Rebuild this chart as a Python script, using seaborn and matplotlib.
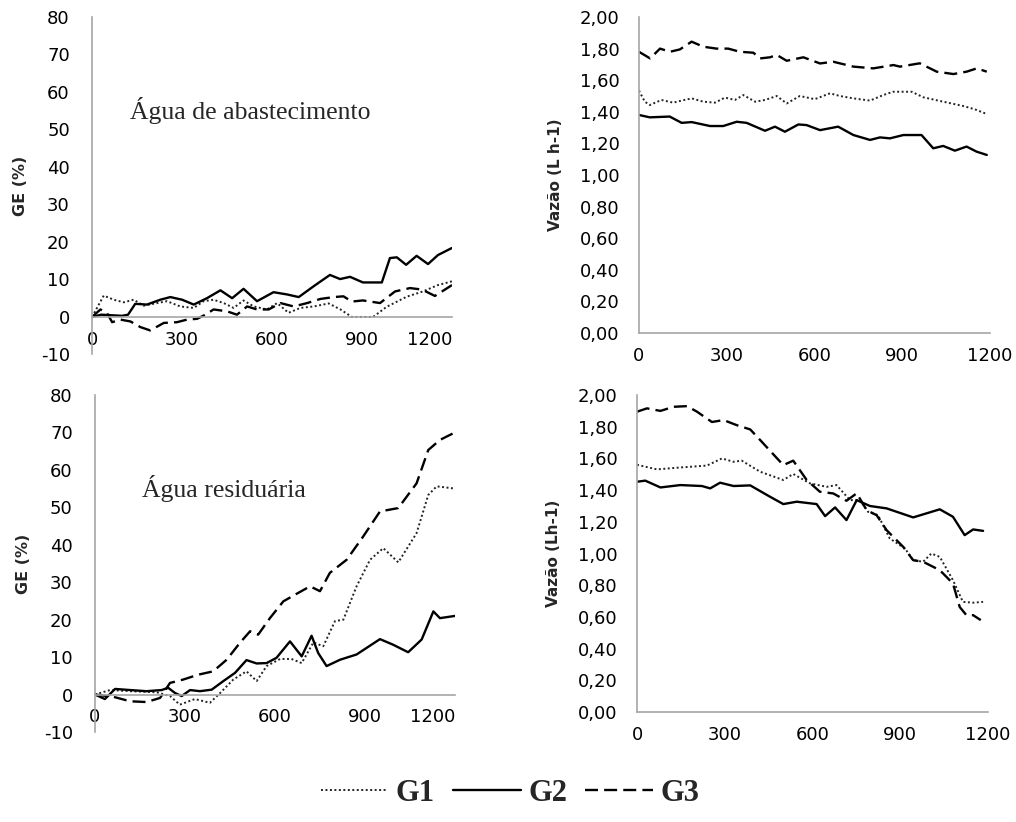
import numpy as np
import pandas as pd
import seaborn as sns
from matplotlib import pyplot as plt

# tick labels
x_ticks = [0, 300, 600, 900, 1200]
ge_ticks = [-10, 0, 10, 20, 30, 40, 50, 60, 70, 80]
vz_ticks = [0.0, 0.2, 0.4, 0.6, 0.8, 1.0, 1.2, 1.4, 1.6, 1.8, 2.0]
vz_labels = ['0,00', '0,20', '0,40', '0,60', '0,80', '1,00', '1,20', '1,40', '1,60', '1,80', '2,00']

# --- GE (%), agua de abastecimento ---
ge_ab_g1_x = [0, 39, 72, 106, 139, 172, 217, 250, 294, 339, 372, 405, 439, 472, 505, 539, 583, 617, 655, 694,
              739, 789, 828, 866, 937, 982, 1049, 1103, 1153, 1200]
ge_ab_g1_y = [0, 5.7, 4.6, 3.9, 4.6, 3.0, 3.7, 4.2, 2.8, 2.4, 4.2, 4.6, 3.7, 2.4, 4.4, 2.8, 2.0, 3.7, 1.1, 2.4,
              2.8, 3.6, 2.0, 0.0, 0.0, 2.7, 5.4, 6.8, 8.5, 9.5]
ge_ab_g2_x = [0, 30, 100, 120, 144, 183, 228, 261, 300, 339, 383, 428, 467, 505, 550, 605, 650, 689, 739, 793,
              827, 860, 903, 966, 993, 1016, 1047, 1082, 1120, 1153, 1200]
ge_ab_g2_y = [0, 0.6, 0.3, 0.6, 3.5, 3.3, 4.6, 5.3, 4.6, 3.3, 5.0, 7.1, 5.0, 7.5, 4.2, 6.6, 6.0, 5.3, 8.2, 11.2,
              10.1, 10.7, 9.2, 9.2, 15.7, 15.9, 13.9, 16.3, 14.1, 16.5, 18.4]
ge_ab_g3_x = [0, 28, 50, 67, 94, 128, 161, 194, 239, 283, 317, 350, 378, 405, 450, 483, 517, 550, 589, 628,
              672, 717, 761, 806, 838, 866, 903, 960, 1010, 1060, 1100, 1143, 1200]
ge_ab_g3_y = [0, 2.0, 1.0, -1.4, -0.7, -1.2, -2.7, -3.6, -1.6, -1.4, -0.7, -0.5, 0.6, 2.0, 1.5, 0.6, 2.8, 2.0,
              2.0, 3.7, 2.8, 3.7, 4.8, 5.3, 5.5, 4.1, 4.4, 3.7, 6.8, 7.7, 7.3, 5.6, 8.5]

# --- GE (%), agua residuaria ---
ge_re_g1_x = [0, 50, 117, 206, 250, 283, 333, 383, 417, 461, 505, 539, 572, 617, 655, 689, 728, 761, 800, 828,
              872, 917, 961, 1011, 1072, 1111, 1139, 1200]
ge_re_g1_y = [0, 1.2, 0.9, 0.6, -0.4, -2.7, -1.2, -2.2, 0.4, 4.0, 6.2, 3.6, 7.6, 9.5, 9.5, 8.4, 13.9, 12.9,
              19.6, 20.0, 28.9, 36.0, 39.1, 35.3, 43.1, 53.3, 55.6, 55.0]
ge_re_g2_x = [0, 33, 67, 117, 172, 222, 244, 267, 289, 317, 350, 389, 428, 467, 505, 539, 572, 605, 650, 689,
              722, 744, 772, 817, 872, 950, 994, 1044, 1089, 1128, 1150, 1200]
ge_re_g2_y = [0, -1.2, 1.5, 1.2, 0.9, 1.2, 1.8, 0.4, -0.4, 1.2, 0.9, 1.3, 3.6, 5.8, 9.2, 8.3, 8.4, 9.8, 14.2,
              10.2, 15.7, 11.1, 7.6, 9.3, 10.7, 14.8, 13.3, 11.3, 14.7, 22.2, 20.4, 21.0]
ge_re_g3_x = [0, 61, 117, 172, 217, 250, 294, 344, 394, 439, 483, 517, 544, 583, 628, 672, 717, 750, 783, 839,
              894, 950, 1011, 1072, 1111, 1150, 1200]
ge_re_g3_y = [0, -0.6, -1.8, -2.0, -0.9, 3.1, 4.0, 5.3, 6.2, 9.3, 13.8, 16.9, 16.0, 20.4, 24.9, 26.9, 28.9,
              27.6, 32.5, 36.0, 42.2, 48.9, 49.8, 56.4, 65.3, 68.0, 70.0]

# --- Vazao (L h-1), agua de abastecimento ---
vz_ab_g1_x = [0, 20, 37, 77, 117, 146, 180, 220, 260, 294, 328, 357, 397, 431, 471, 505, 550, 601, 653, 687,
              733, 790, 835, 869, 932, 972, 1040, 1108, 1148, 1189]
vz_ab_g1_y = [1.534, 1.464, 1.443, 1.475, 1.458, 1.471, 1.485, 1.464, 1.458, 1.49, 1.475, 1.506, 1.464, 1.475,
              1.5, 1.453, 1.5, 1.48, 1.517, 1.5, 1.485, 1.471, 1.506, 1.527, 1.527, 1.492, 1.464, 1.437, 1.416,
              1.386]
vz_ab_g2_x = [0, 37, 105, 146, 180, 243, 288, 334, 368, 431, 465, 499, 545, 573, 619, 681, 733, 790, 824, 858,
              904, 966, 1006, 1040, 1080, 1120, 1154, 1189]
vz_ab_g2_y = [1.38, 1.365, 1.37, 1.33, 1.335, 1.31, 1.31, 1.337, 1.33, 1.28, 1.306, 1.274, 1.32, 1.316, 1.284,
              1.306, 1.253, 1.222, 1.238, 1.232, 1.253, 1.253, 1.169, 1.184, 1.154, 1.18, 1.148, 1.127]
vz_ab_g3_x = [0, 38, 72, 106, 140, 180, 220, 265, 305, 345, 391, 414, 448, 471, 505, 562, 619, 664, 733, 801,
              870, 892, 960, 1018, 1075, 1120, 1155, 1189]
vz_ab_g3_y = [1.78, 1.738, 1.80, 1.78, 1.795, 1.844, 1.812, 1.80, 1.80, 1.78, 1.774, 1.738, 1.745, 1.76, 1.723,
              1.745, 1.706, 1.717, 1.686, 1.675, 1.696, 1.686, 1.707, 1.654, 1.639, 1.654, 1.675, 1.654]

# --- Vazao (L h-1), agua residuaria ---
vz_re_g1_x = [0, 68, 148, 239, 290, 330, 358, 421, 500, 534, 591, 648, 682, 728, 762, 790, 824, 864, 916, 944,
              978, 1006, 1035, 1080, 1114, 1149, 1183]
vz_re_g1_y = [1.56, 1.531, 1.543, 1.555, 1.60, 1.579, 1.586, 1.516, 1.464, 1.502, 1.443, 1.421, 1.432, 1.337,
              1.337, 1.263, 1.242, 1.095, 1.032, 0.958, 0.948, 1.0, 0.979, 0.832, 0.695, 0.69, 0.695]
vz_re_g2_x = [0, 28, 80, 148, 222, 250, 284, 330, 387, 455, 500, 546, 614, 643, 677, 716, 751, 796, 853, 944,
              1035, 1080, 1120, 1149, 1183]
vz_re_g2_y = [1.453, 1.46, 1.417, 1.432, 1.426, 1.411, 1.447, 1.426, 1.43, 1.358, 1.312, 1.327, 1.312, 1.236,
              1.291, 1.211, 1.337, 1.30, 1.285, 1.228, 1.279, 1.232, 1.116, 1.152, 1.143]
vz_re_g3_x = [0, 34, 80, 125, 171, 205, 256, 296, 341, 387, 421, 500, 534, 580, 625, 671, 716, 751, 785, 819,
              853, 910, 944, 978, 1035, 1080, 1103, 1126, 1149, 1175]
vz_re_g3_y = [1.895, 1.916, 1.90, 1.926, 1.93, 1.895, 1.83, 1.842, 1.81, 1.783, 1.716, 1.558, 1.586, 1.464,
              1.39, 1.379, 1.333, 1.38, 1.274, 1.242, 1.148, 1.042, 0.958, 0.948, 0.895, 0.811, 0.663, 0.611,
              0.611, 0.58]

sns.set_style("white")
plt.rcParams['font.family'] = ['DejaVu Sans']

fig = plt.figure(figsize=(10.16, 8.22), dpi=100)
ax_tl = fig.add_axes([0.0906, 0.5688, 0.3543, 0.4106])
ax_tr = fig.add_axes([0.6289, 0.5949, 0.3455, 0.3844])
ax_bl = fig.add_axes([0.0935, 0.1095, 0.3543, 0.41])
ax_br = fig.add_axes([0.627, 0.1338, 0.3455, 0.3856])

styles = {'G1': dict(linestyle=(0, (1, 1.3)), linewidth=1.4, color='#222222'),
          'G2': dict(linestyle='-', linewidth=1.7, color='black'),
          'G3': dict(linestyle=(0, (5.5, 2.6)), linewidth=1.7, color='black')}

def draw(ax, series):
    for name, xs, ys in series:
        sns.lineplot(x=xs, y=ys, ax=ax, label=name, sort=False, legend=False, **styles[name])

draw(ax_tl, [('G1', ge_ab_g1_x, ge_ab_g1_y), ('G2', ge_ab_g2_x, ge_ab_g2_y), ('G3', ge_ab_g3_x, ge_ab_g3_y)])
draw(ax_bl, [('G1', ge_re_g1_x, ge_re_g1_y), ('G2', ge_re_g2_x, ge_re_g2_y), ('G3', ge_re_g3_x, ge_re_g3_y)])
draw(ax_tr, [('G1', vz_ab_g1_x, vz_ab_g1_y), ('G2', vz_ab_g2_x, vz_ab_g2_y), ('G3', vz_ab_g3_x, vz_ab_g3_y)])
draw(ax_br, [('G1', vz_re_g1_x, vz_re_g1_y), ('G2', vz_re_g2_x, vz_re_g2_y), ('G3', vz_re_g3_x, vz_re_g3_y)])

grey = '#a6a6a6'
for ax in [ax_tl, ax_bl, ax_tr, ax_br]:
    ax.set_xlim(0, 1200)
    ax.set_xticks(x_ticks)
    ax.set_xticklabels([str(t) for t in x_ticks])
    for s in ['top', 'right']:
        ax.spines[s].set_visible(False)
    ax.spines['left'].set_color(grey)
    ax.spines['bottom'].set_color(grey)
    ax.spines['left'].set_linewidth(1.2)
    ax.spines['bottom'].set_linewidth(1.2)
    ax.tick_params(axis='both', length=0, labelsize=13, colors='black')
    ax.tick_params(axis='x', pad=10)
    ax.patch.set_alpha(0)

for ax in [ax_tl, ax_bl]:
    ax.set_ylim(-10, 80)
    ax.set_yticks(ge_ticks)
    ax.set_yticklabels([str(t) for t in ge_ticks])
    ax.spines['bottom'].set_position(('data', 0))
    ax.tick_params(axis='y', pad=16)
    ax.set_ylabel('GE (%)', fontsize=11.5, fontweight='bold')
    ax.yaxis.set_label_coords(-0.178, 0.5)
    ax.get_xticklabels()[-1].set_horizontalalignment('right')

for ax, lab in [(ax_tr, 'Vazão (L h-1)'), (ax_br, 'Vazão (Lh-1)')]:
    ax.set_ylim(0, 2.0)
    ax.set_yticks(vz_ticks)
    ax.set_yticklabels(vz_labels)
    ax.tick_params(axis='y', pad=14)
    ax.set_ylabel(lab, fontsize=11, fontweight='bold')
    ax.yaxis.set_label_coords(-0.217, 0.5)

ax_tl.text(125, 55, 'Água de abastecimento', family='Liberation Serif', fontsize=18.5, va='center', ha='left')
ax_bl.text(157, 55, 'Água residuária', family='Liberation Serif', fontsize=18.5, va='center', ha='left')

handles, labels = ax_tl.get_legend_handles_labels()
fig.legend(handles, labels, loc='center', bbox_to_anchor=(0.502, 0.035), ncol=3, frameon=False,
           handlelength=2.2, handletextpad=0.25, columnspacing=0.6,
           prop={'family': 'Liberation Serif', 'weight': 'bold', 'size': 22})

plt.savefig('out.png', dpi=100)
